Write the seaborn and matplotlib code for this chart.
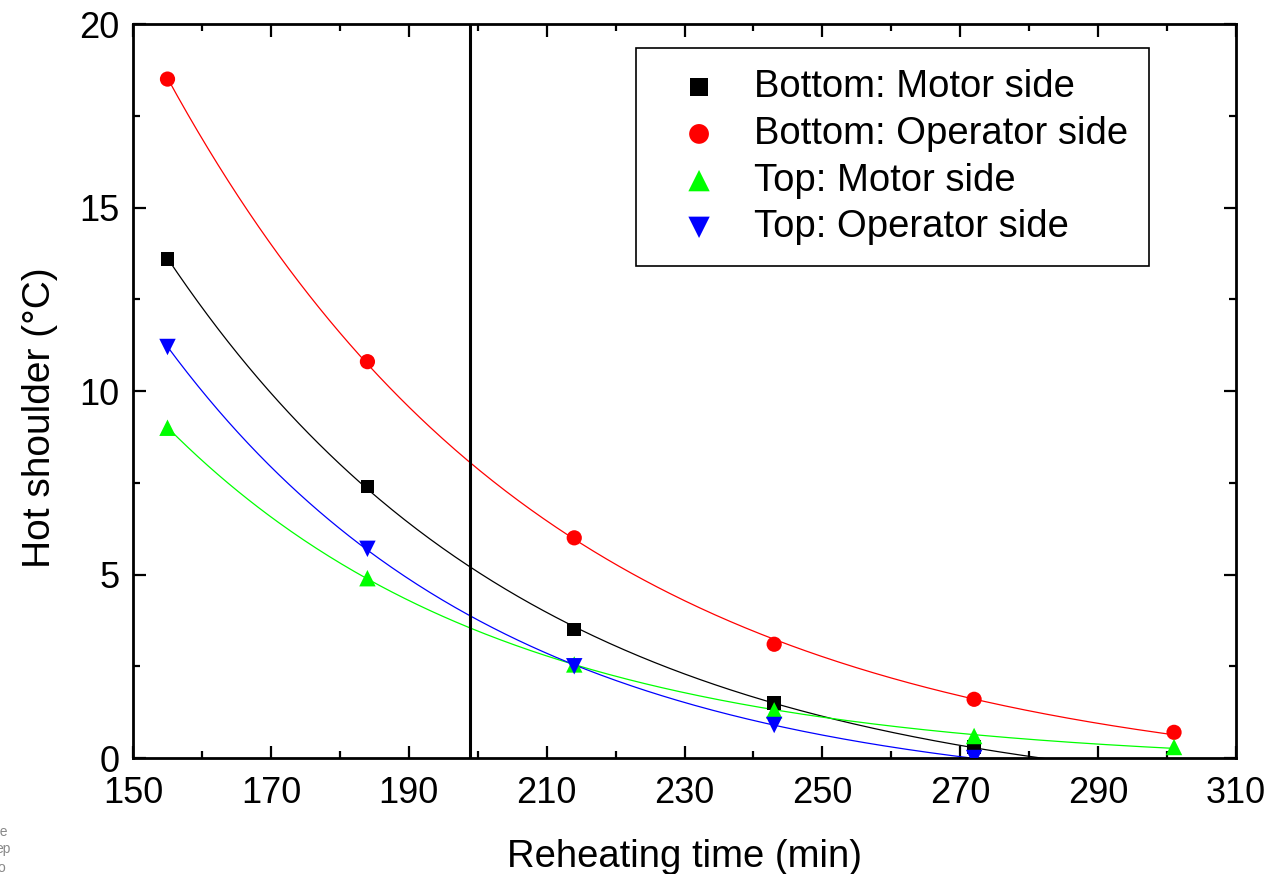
import numpy as np
import matplotlib
matplotlib.use("Agg")
import matplotlib.pyplot as plt
import seaborn as sns

# reheating times (min)
time = [155, 184, 214, 243, 272, 301]

# hot shoulder (°C)
bottom_motor = [13.6, 7.4, 3.5, 1.5, 0.3]
bottom_operator = [18.5, 10.8, 6.0, 3.1, 1.6, 0.7]
top_motor = [9.0, 4.9, 2.55, 1.3, 0.6, 0.3]
top_operator = [11.2, 5.7, 2.5, 0.9, 0.0]

labels = ['Bottom: Motor side', 'Bottom: Operator side',
          'Top: Motor side', 'Top: Operator side']
colors = ['black', 'red', '#00ff00', 'blue']
markers = ['s', 'o', '^', 'v']
sizes = [95, 120, 140, 140]

vline_x = 198.9


def fit_expdec(x, y):
    # y = y0 + A*exp(-(x - x[0])/t), grid search on t, least squares on y0, A
    x = np.asarray(x, float)
    y = np.asarray(y, float)
    best = None
    for t in np.linspace(5, 300, 3000):
        e = np.exp(-(x - x[0]) / t)
        M = np.column_stack([np.ones_like(e), e])
        coef, *_ = np.linalg.lstsq(M, y, rcond=None)
        r = np.sum((M @ coef - y) ** 2)
        if best is None or r < best[0]:
            best = (r, coef, t)
    _, (y0, A), t = best
    xs = np.linspace(x[0], 301, 400)
    return xs, y0 + A * np.exp(-(xs - x[0]) / t)


sns.set_theme(style="ticks")
plt.rcParams['font.family'] = ['Liberation Sans', 'DejaVu Sans']
plt.rcParams['text.color'] = 'black'
plt.rcParams['axes.labelcolor'] = 'black'

fig = plt.figure(figsize=(12.73, 8.74), dpi=100)
ax = fig.add_axes([0.1045, 0.1327, 0.8665, 0.8398])

series = [bottom_motor, bottom_operator, top_motor, top_operator]
for vals, lab, c, m, s in zip(series, labels, colors, markers, sizes):
    xv = time[:len(vals)]
    xs, ys = fit_expdec(xv, vals)
    sns.lineplot(x=xs, y=ys, color=c, linewidth=0.9, ax=ax, sort=False)
    sns.scatterplot(x=xv, y=vals, marker=m, s=s, color=c, edgecolor='none',
                    label=lab, ax=ax, zorder=3)

ax.axvline(vline_x, color='black', linewidth=2.2, zorder=4)

ax.set_xlim(150, 310)
ax.set_ylim(0, 20)
ax.set_xticks(np.arange(150, 311, 20))
ax.set_xticks(np.arange(160, 310, 20), minor=True)
ax.set_yticks(np.arange(0, 21, 5))
ax.set_yticks(np.arange(2.5, 20, 5), minor=True)
ax.tick_params(which='both', direction='in', top=True, right=True,
               labelsize=26, colors='black', width=1.6)
ax.tick_params(which='major', length=9)
ax.tick_params(which='minor', length=5)
ax.tick_params(axis='x', which='major', pad=13)
ax.tick_params(axis='y', which='major', pad=10)
for sp in ax.spines.values():
    sp.set_linewidth(2)
    sp.set_color('black')

ax.set_xlabel('Reheating time (min)', fontsize=27.5, labelpad=20)
ax.set_ylabel('Hot shoulder (°C)', fontsize=28)
ax.yaxis.set_label_coords(-0.068, 0.463)

leg = ax.legend(loc='upper left', bbox_to_anchor=(0.456, 0.967), borderaxespad=0,
                fontsize=27.5, frameon=True, fancybox=False, edgecolor='black',
                framealpha=1, markerscale=1.3, labelspacing=0.28,
                handlelength=2.2, handletextpad=0.33, borderpad=0.55)
leg.get_frame().set_linewidth(1.2)

# cropped text fragments at the lower-left edge
for yy, t in [(0.043, 're'), (0.024, 'ep'), (0.002, 'fo')]:
    fig.text(-0.004, yy, t, fontsize=10, color='#888888')

fig.savefig('out.png', dpi=100)
